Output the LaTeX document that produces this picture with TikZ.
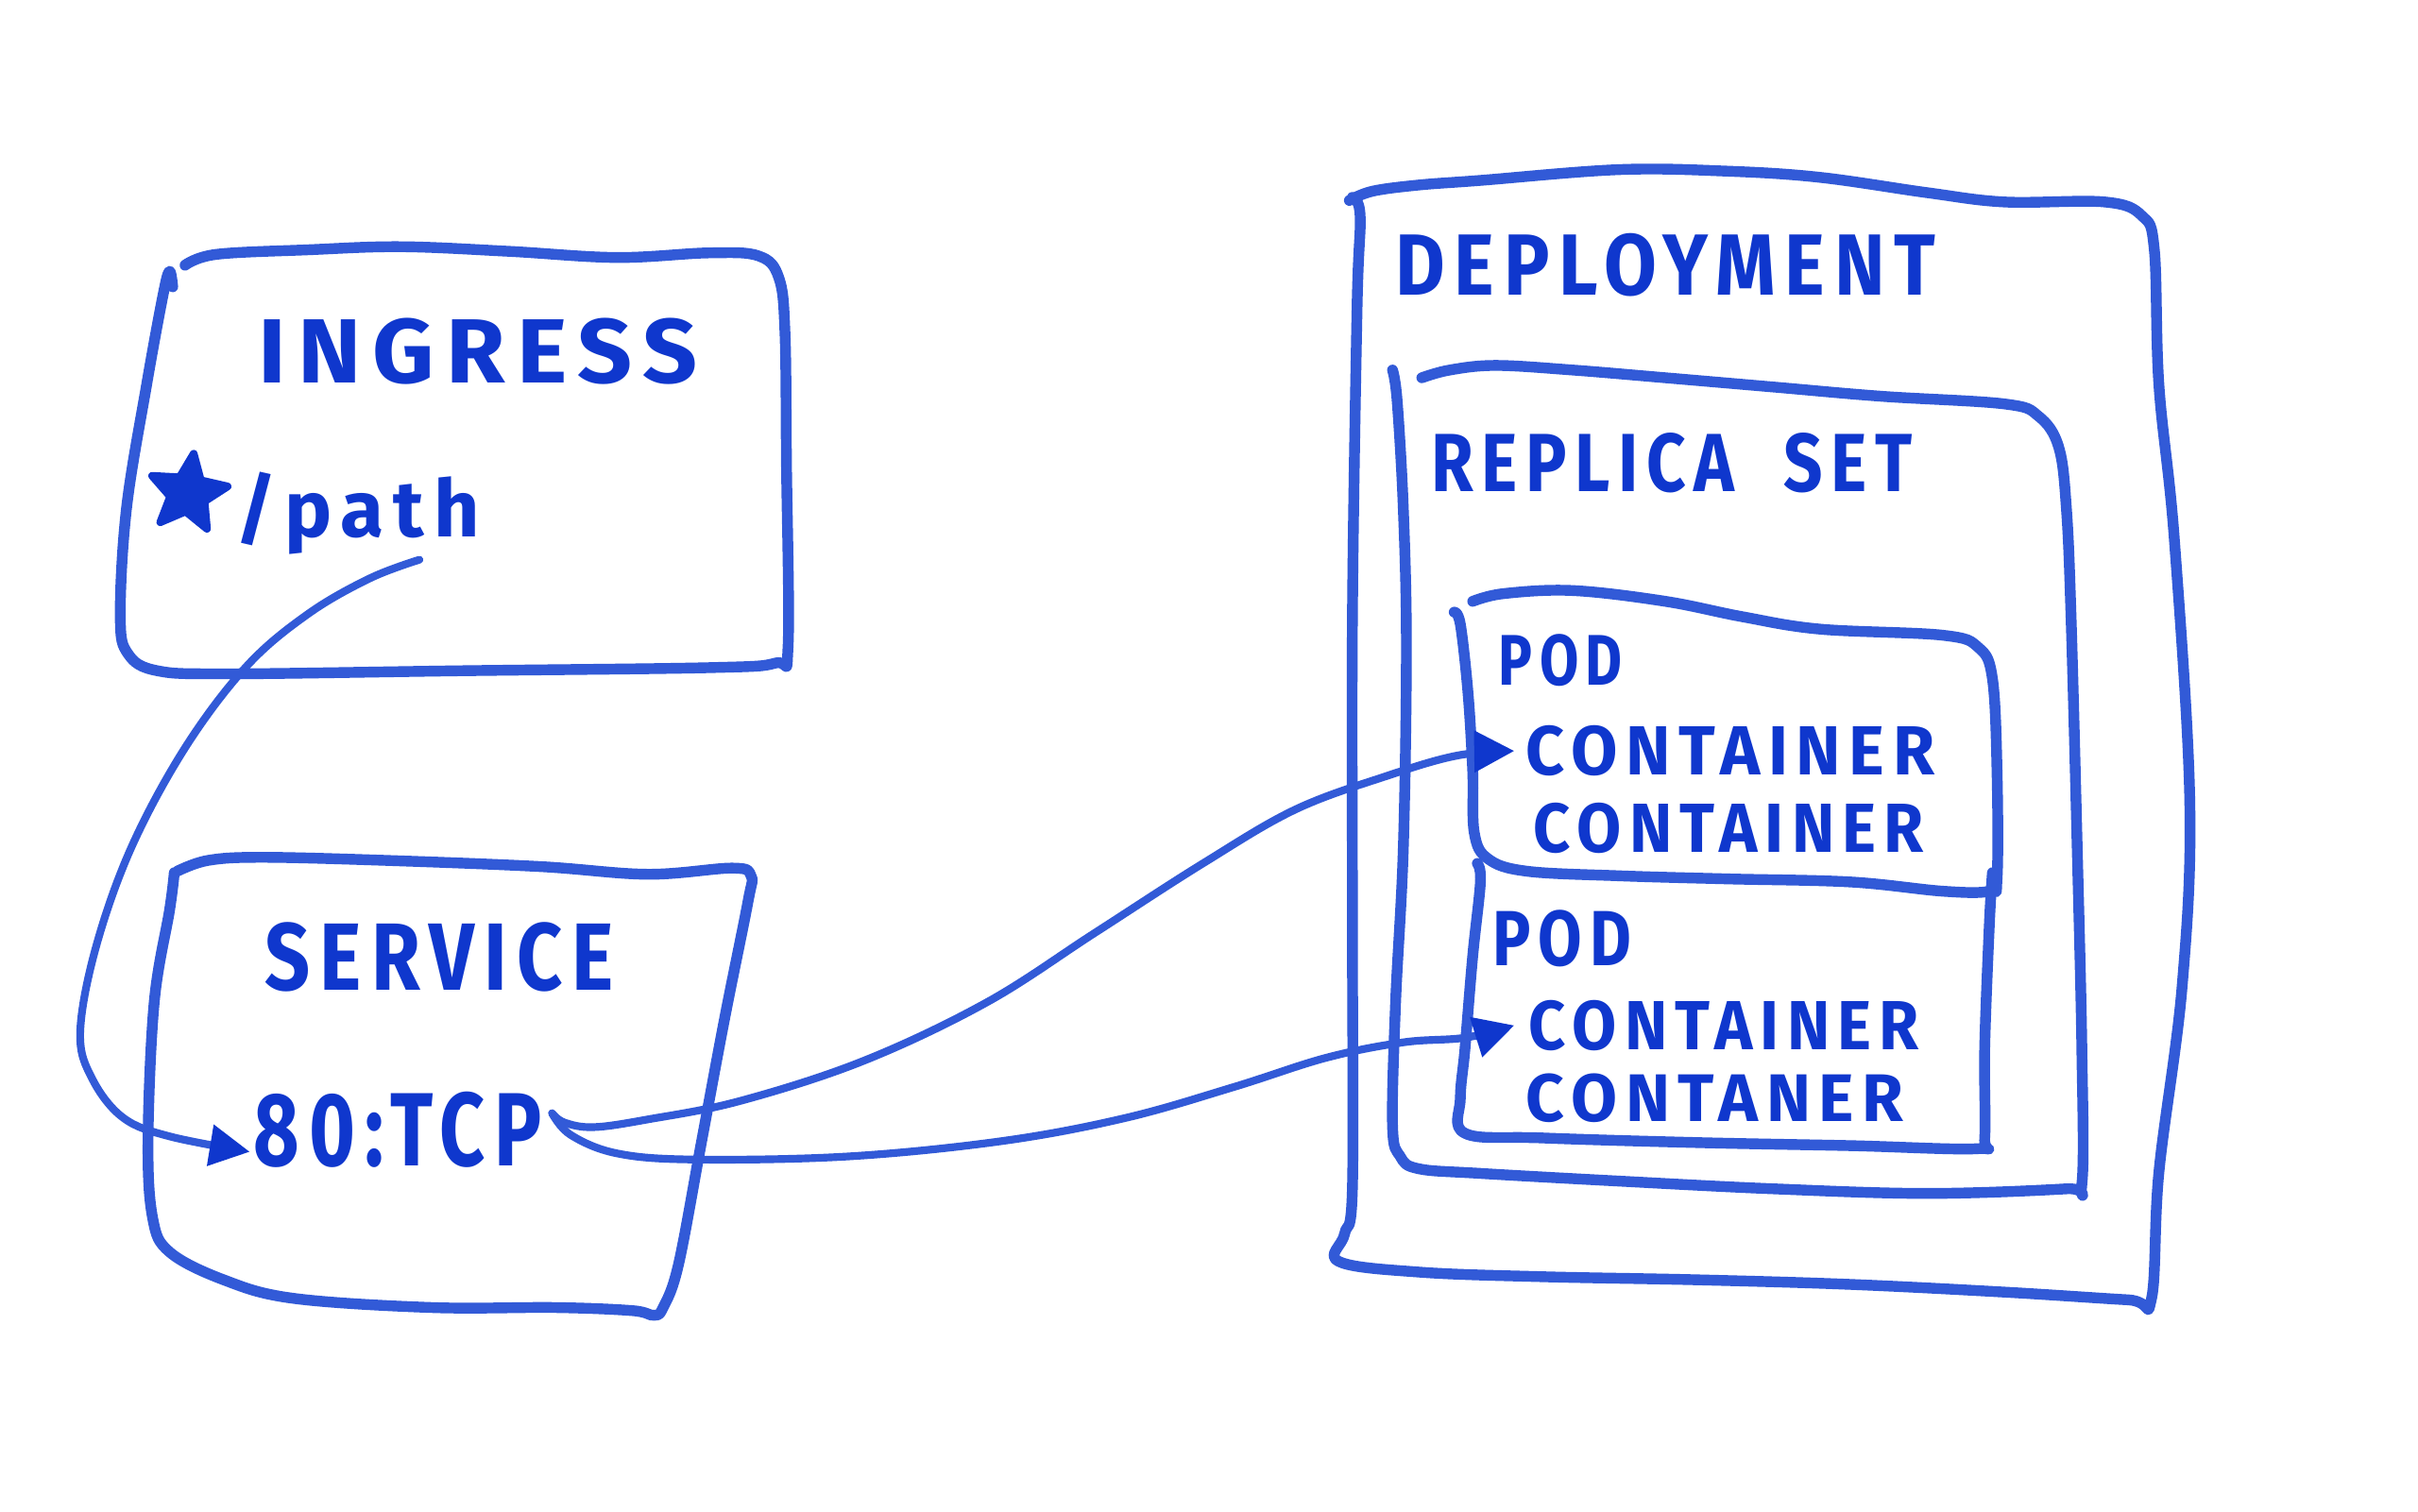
\documentclass[tikz,border=0pt]{standalone}
\usepackage{fontspec}
\usepackage{graphicx}
\newfontfamily\hand[LetterSpace=12]{Fira Sans}
\usetikzlibrary{shapes.geometric,arrows.meta}
\definecolor{ink}{RGB}{15,55,205}
\definecolor{pen}{RGB}{50,90,215}
\begin{document}
\begin{tikzpicture}[x=1mm,y=-1mm,line cap=round,line join=round,
  box/.style={draw=pen,line width=7mm},
  wire/.style={draw=pen,line width=5mm,-{Triangle[length=26mm,width=26mm,fill=ink,color=ink]}},
  txt/.style={text=ink,inner sep=0pt,font=\hand\bfseries\fontsize{100pt}{100pt}\selectfont}]
\useasboundingbox[fill=white] (0,0) rectangle (1568,980);

% ---- boxes ----
\draw[box] plot[smooth,tension=0.6] coordinates {(120,172) (140,165) (200,162) (260,160) (330,163) (400,167) (460,164) (492,166) (505,180) (509,215) (510,300) (511,420) (503,430) (460,433) (300,435) (150,437) (102,435) (83,424) (78,400) (82,330) (95,250) (106,190) (110,176) (112,186)};
\draw[box] plot[smooth,tension=0.6] coordinates {(115,565) (135,558) (170,556) (250,558) (350,562) (420,567) (475,563) (487,568) (485,585) (470,660) (455,740) (440,820) (430,848) (424,853) (410,850) (360,848) (280,848) (190,842) (145,830) (110,812) (99,790) (96,740) (100,650) (110,590) (113,566)};
\draw[box] plot[smooth,tension=0.6] coordinates {(875,130) (890,124) (920,120) (960,117) (1050,110) (1120,111) (1180,115) (1250,125) (1300,131) (1365,131) (1389,140) (1397,162) (1400,250) (1410,350) (1420,520) (1415,640) (1400,760) (1395,843) (1380,843) (1300,838) (1200,833) (1100,830) (1000,828) (920,825) (868,818) (872,800) (877,770) (877,600) (877,400) (880,200) (882,140) (877,128)};
\draw[box] plot[smooth,tension=0.6] coordinates {(922,245) (940,240) (970,237) (1020,240) (1080,245) (1150,251) (1220,257) (1300,262) (1322,270) (1335,290) (1340,330) (1343,400) (1347,550) (1350,680) (1350,768) (1340,771) (1250,774) (1150,771) (1050,766) (960,761) (920,758) (908,750) (903,730) (905,650) (910,550) (912,420) (910,330) (906,260) (903,240)};
\draw[box] plot[smooth,tension=0.6] coordinates {(955,390) (975,385) (1020,383) (1080,390) (1130,400) (1180,408) (1260,412) (1283,420) (1292,440) (1295,500) (1295,570) (1290,578) (1260,578) (1200,572) (1120,570) (1050,568) (990,565) (965,557) (956,540) (955,500) (952,450) (947,405) (943,397)};
\draw[box] plot[smooth,tension=0.6] coordinates {(958,560) (960,572) (955,620) (950,680) (947,712) (950,735) (1000,738) (1100,741) (1200,743) (1282,745) (1287,738) (1287,680) (1290,600) (1292,566)};

% ---- texts ----
\node[txt] (ingress) at (310,228) {\resizebox{285mm}{42mm}{INGRESS}};
\node[star,star points=5,star point ratio=2.2,fill=ink,draw=ink,line width=5mm,minimum size=52mm,inner sep=0pt,rotate=-8] (star) at (122,320) {};
\node[txt] (path) at (232,333) {\resizebox{158mm}{!}{/path}};
\node[txt] (service) at (285,621) {\resizebox{226mm}{44mm}{SERVICE}};
\node[txt] (tcp) at (258,733) {\resizebox{187mm}{48mm}{80:TCP}};
\node[txt] (deploy) at (1080,172) {\resizebox{350mm}{40mm}{DEPLOYMENT}};
\node[txt] (rs) at (1084,300) {\resizebox{312mm}{38mm}{REPLICA\ \ SET}};
\node[txt] (pod1) at (1012,428) {\resizebox{80mm}{33mm}{POD}};
\node[txt] (c1) at (1122,487) {\resizebox{265mm}{32mm}{CONTAINER}};
\node[txt] (c2) at (1121,537) {\resizebox{253mm}{32mm}{CONTAINER}};
\node[txt] (pod2) at (1013,609) {\resizebox{90mm}{36mm}{POD}};
\node[txt] (c3) at (1118,665) {\resizebox{253mm}{32mm}{CONTAINER}};
\node[txt] (c4) at (1112,712) {\resizebox{245mm}{31mm}{CONTANER}};

% ---- connectors ----
\coordinate (pathtail) at (272,363);
\coordinate (tcpin) at (162,747);
\coordinate (tcpout) at (358,722);
\coordinate (c1in) at (982,487);
\coordinate (c3in) at (982,665);
\draw[wire] plot[smooth,tension=0.6] coordinates {(pathtail) (240,375) (200,398) (160,432) (120,485) (85,550) (62,615) (52,670) (60,700) (80,725) (110,737) (tcpin)};
\draw[wire] plot[smooth,tension=0.6] coordinates {(tcpout) (366,728) (385,731) (420,726) (480,714) (560,688) (640,650) (710,605) (780,560) (840,525) (900,503) (945,490) (c1in)};
\draw[wire] plot[smooth,tension=0.6] coordinates {(tcpout) (370,736) (400,748) (450,752) (550,750) (650,740) (730,725) (800,705) (860,686) (910,676) (950,673) (c3in)};
\end{tikzpicture}
\end{document}
